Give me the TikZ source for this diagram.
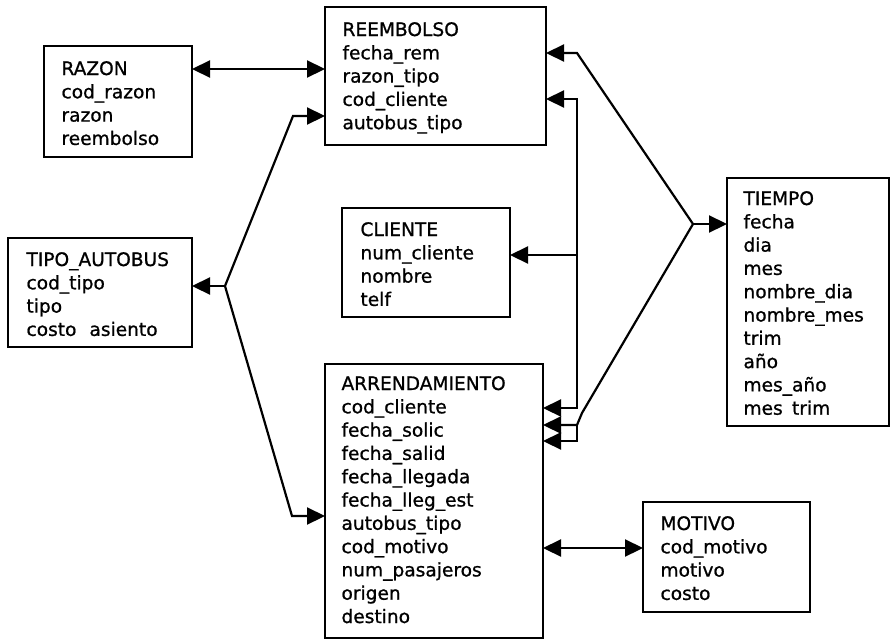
\documentclass[tikz,border=0pt]{standalone}
\usepackage{fontspec}
\setmainfont{DejaVu Sans}[FakeBold=0.9]
\usetikzlibrary{arrows.meta}
\newcommand{\fieldlist}[1]{\begin{tabular}[t]{@{}l@{}}#1\end{tabular}}
\begin{document}
\begin{tikzpicture}[x=1pt,y=-1pt,
  tbox/.style={draw, line width=2.2pt, rectangle, inner sep=0pt, outer sep=0pt, anchor=north west},
  fields/.style={inner sep=0pt, outer sep=0pt, anchor=base west, font=\fontsize{18.6}{23.3}\selectfont},
  link/.style={line width=2.2pt},
  fk/.style={link, -{Triangle[length=18pt,width=17pt]}},
  fkk/.style={link, {Triangle[length=18pt,width=17pt]}-{Triangle[length=18pt,width=17pt]}}]
\useasboundingbox (0,0) rectangle (891,640);
\fill[white] (0,0) rectangle (891,640);

% tables
\node[tbox, minimum width=148pt, minimum height=111pt] (razon) at (44,46) {};
\node[fields] (razon-t) at (61.5,75) {\fieldlist{RAZON\\cod\_razon\\razon\\reembolso}};

\node[tbox, minimum width=221pt, minimum height=138pt] (reem) at (325,7) {};
\node[fields] (reem-t) at (342.5,36) {\fieldlist{REEMBOLSO\\fecha\_rem\\razon\_tipo\\cod\_cliente\\autobus\_tipo}};

\node[tbox, minimum width=184pt, minimum height=109pt] (tipo) at (8,238) {};
\node[fields] (tipo-t) at (26.5,266) {\fieldlist{TIPO\_AUTOBUS\\cod\_tipo\\tipo\\costo\hspace{0.7em}asiento}};

\node[tbox, minimum width=168pt, minimum height=109pt] (cli) at (342,208) {};
\node[fields] (cli-t) at (360.5,236) {\fieldlist{CLIENTE\\num\_cliente\\nombre\\telf}};

\node[tbox, minimum width=218pt, minimum height=274pt] (arr) at (325,364) {};
\node[fields] (arr-t) at (341.5,390) {\fieldlist{ARRENDAMIENTO\\cod\_cliente\\fecha\_solic\\fecha\_salid\\fecha\_llegada\\fecha\_lleg\_est\\autobus\_tipo\\cod\_motivo\\num\_pasajeros\\origen\\destino}};

\node[tbox, minimum width=162pt, minimum height=248pt] (tiem) at (727,178) {};
\node[fields] (tiem-t) at (743.5,205) {\fieldlist{TIEMPO\\fecha\\dia\\mes\\nombre\_dia\\nombre\_mes\\trim\\año\\mes\_año\\mes\hspace{0.5em}trim}};

\node[tbox, minimum width=167pt, minimum height=110pt] (mot) at (643,502) {};
\node[fields] (mot-t) at (660.5,530) {\fieldlist{MOTIVO\\cod\_motivo\\motivo\\costo}};

% bend and branch points
\coordinate (r) at (250,69);
\coordinate (tb) at (225,286);
\coordinate (tbU) at (293,116);
\coordinate (tbD) at (292,516);
\coordinate (c1) at (577,99);
\coordinate (c2) at (577,408);
\coordinate (c3) at (577,255);
\coordinate (t0) at (693,224);
\coordinate (tU) at (577,53);
\coordinate (tD1) at (582,413);
\coordinate (tD2) at (577,425);
\coordinate (tD3) at (577,441);
\coordinate (m) at (600,548);

% relations
\draw[fkk] (razon.east |- r) -- (reem.west |- r);

\draw[fkk] (reem.west |- tbU) -- (tbU) -- (tb) -- (tbD) -- (arr.west |- tbD);
\draw[fk] (tb) -- (tipo.east |- tb);

\draw[fkk] (reem.east |- c1) -- (c1) -- (c2) -- (arr.east |- c2);
\draw[fk] (c3) -- (cli.east |- c3);

\draw[fkk] (reem.east |- tU) -- (tU) -- (t0) -- (tD1) -- (tD2) -- (arr.east |- tD2);
\draw[fk] (tD2) -- (tD3) -- (arr.east |- tD3);
\draw[fk] (t0) -- (tiem.west |- t0);

\draw[fkk] (arr.east |- m) -- (mot.west |- m);
\end{tikzpicture}
\end{document}
